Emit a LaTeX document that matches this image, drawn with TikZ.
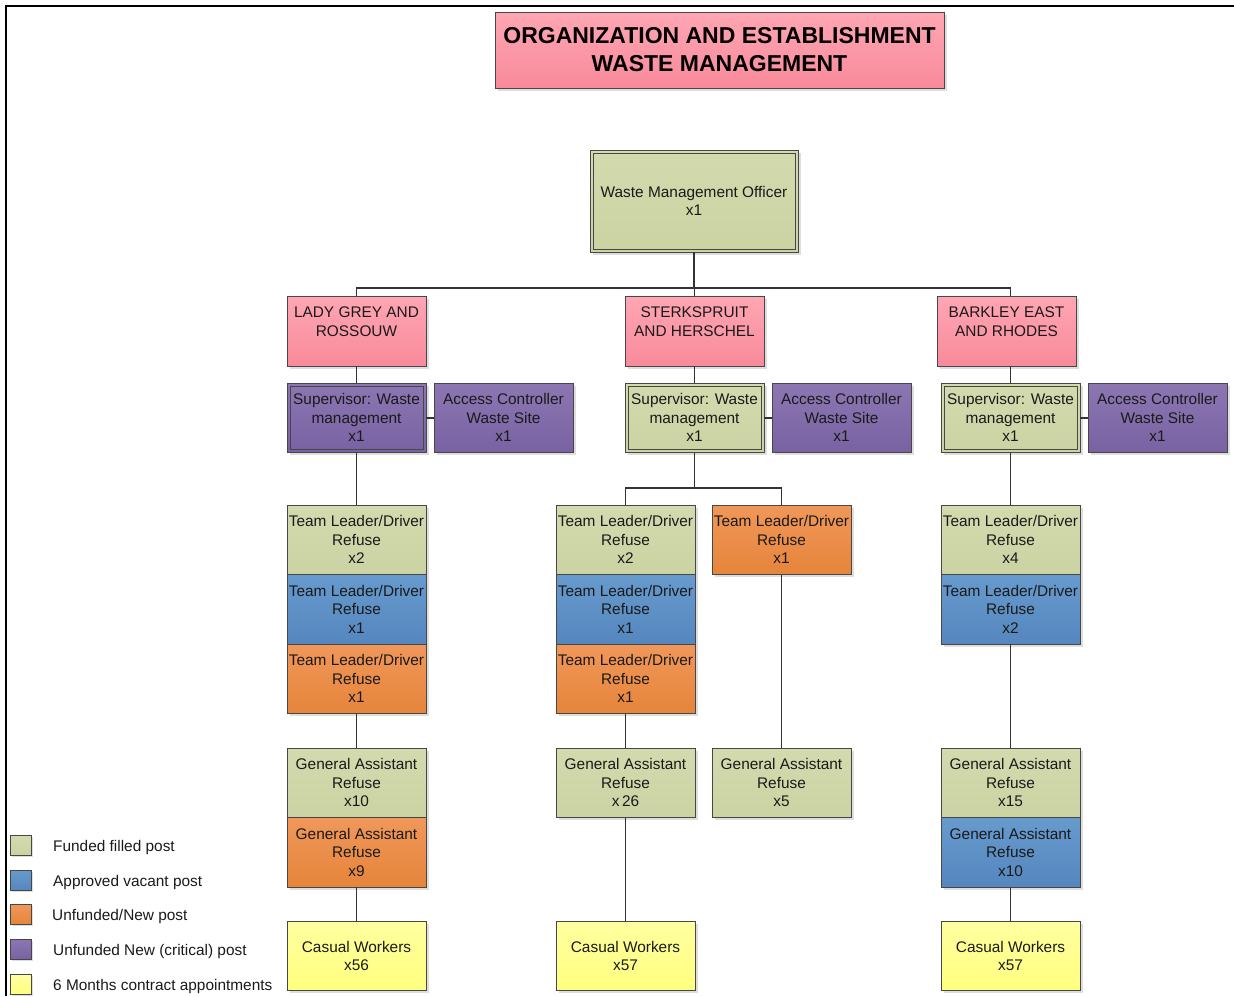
\documentclass[tikz,border=0pt]{standalone}
\usepackage{fontspec}
\setmainfont{Liberation Sans}
\usetikzlibrary{shadows}

\definecolor{fundedT}{HTML}{D3DAAE}
\definecolor{fundedB}{HTML}{CBD3A3}
\definecolor{vacantT}{HTML}{679ACD}
\definecolor{vacantB}{HTML}{5587BF}
\definecolor{newT}{HTML}{F0975A}
\definecolor{newB}{HTML}{E6853B}
\definecolor{critT}{HTML}{8C76B2}
\definecolor{critB}{HTML}{7862A2}
\definecolor{contrT}{HTML}{FFFFA0}
\definecolor{contrB}{HTML}{FFFF7E}
\definecolor{pinkT}{HTML}{FFA6B3}
\definecolor{pinkB}{HTML}{F88A9B}
\definecolor{edge}{HTML}{474747}
\definecolor{wire}{HTML}{333333}
\definecolor{ink}{HTML}{1A1A1A}

\tikzset{
  every node/.style={text=ink},
  post/.style={draw=edge, line width=0.7pt, anchor=north west, inner sep=0pt, outer sep=0pt,
    minimum width=139pt, minimum height=69.5pt, align=center,
    font=\fontsize{15.4}{18.5}\selectfont,
    drop shadow={shadow xshift=2.5pt, shadow yshift=-2.5pt, fill=black!13, opacity=1}},
  funded/.style={post, top color=fundedT, bottom color=fundedB},
  vacant/.style={post, top color=vacantT, bottom color=vacantB},
  newpost/.style={post, top color=newT, bottom color=newB},
  critical/.style={post, top color=critT, bottom color=critB},
  contract/.style={post, top color=contrT, bottom color=contrB},
  area/.style={post, top color=pinkT, bottom color=pinkB, minimum height=70pt},
  innerline/.style={draw=edge, line width=0.6pt},
  conn/.style={draw=wire, line width=1.6pt},
  swatch/.style={draw=edge, line width=0.6pt, anchor=north west, inner sep=0pt,
    minimum width=21pt, minimum height=20pt,
    drop shadow={shadow xshift=2pt, shadow yshift=-2pt, fill=black!13, opacity=1}},
  legtext/.style={anchor=west, inner sep=0pt, font=\fontsize{15.4}{18.5}\selectfont},
}

\begin{document}
\begin{tikzpicture}[x=1pt, y=-1pt]
\useasboundingbox (0,0) rectangle (1234,996);

% outer frame (left and top edges)
\draw[line width=2.6pt, black] (6,996) -- (6,6) -- (1234,6);

% title
\node[post, top color=pinkT, bottom color=pinkB, minimum width=449pt, minimum height=76pt,
  font=\fontsize{23}{28}\selectfont\bfseries, text=black] (title) at (495,12)
  {ORGANIZATION AND ESTABLISHMENT\\WASTE MANAGEMENT};

% head of section
\node[funded, minimum width=208pt, minimum height=102pt] (wmo) at (590,150)
  {Waste Management Officer\\x1};

% areas
\node[area] (r1) at (287,296) {LADY GREY AND\\ROSSOUW\\\mbox{}};
\node[area] (r2) at (625,296) {STERKSPRUIT\\AND HERSCHEL\\\mbox{}};
\node[area] (r3) at (937,296) {BARKLEY EAST\\AND RHODES\\\mbox{}};

% supervisors and access controllers
\node[critical] (s1) at (287,383) {Supervisor: Waste\\management\\x1};
\node[critical] (a1) at (434,383) {Access Controller\\Waste Site\\x1};
\node[funded]   (s2) at (625,383) {Supervisor: Waste\\management\\x1};
\node[critical] (a2) at (772,383) {Access Controller\\Waste Site\\x1};
\node[funded]   (s3) at (941,383) {Supervisor: Waste\\management\\x1};
\node[critical] (a3) at (1088,383) {Access Controller\\Waste Site\\x1};

% inner borders of the managerial posts
\foreach \n in {wmo,s1,s2,s3}
  \draw[innerline] ([shift={(3pt,-3pt)}]\n.north west) rectangle ([shift={(-3pt,3pt)}]\n.south east);

% team leaders
\node[funded]  (t1a) at (287,505)   {Team Leader/Driver\\Refuse\\x2};
\node[vacant]  (t1b) at (287,574.5) {Team Leader/Driver\\Refuse\\x1};
\node[newpost] (t1c) at (287,644)   {Team Leader/Driver\\Refuse\\x1};

\node[funded]  (t2a) at (556,505)   {Team Leader/Driver\\Refuse\\x2};
\node[vacant]  (t2b) at (556,574.5) {Team Leader/Driver\\Refuse\\x1};
\node[newpost] (t2c) at (556,644)   {Team Leader/Driver\\Refuse\\x1};
\node[newpost] (t2d) at (712,505)   {Team Leader/Driver\\Refuse\\x1};

\node[funded]  (t3a) at (941,505)   {Team Leader/Driver\\Refuse\\x4};
\node[vacant]  (t3b) at (941,574.5) {Team Leader/Driver\\Refuse\\x2};

% general assistants
\node[funded]  (g1a) at (287,748)   {General Assistant\\Refuse\\x10};
\node[newpost] (g1b) at (287,817.5) {General Assistant\\Refuse\\x9};
\node[funded]  (g2a) at (556,748)   {General Assistant\\Refuse\\x\,26};
\node[funded]  (g2d) at (712,748)   {General Assistant\\Refuse\\x5};
\node[funded]  (g3a) at (941,748)   {General Assistant\\Refuse\\x15};
\node[vacant]  (g3b) at (941,817.5) {General Assistant\\Refuse\\x10};

% casual workers
\node[contract] (c1) at (287,921) {Casual Workers\\x56};
\node[contract] (c2) at (556,921) {Casual Workers\\x57};
\node[contract] (c3) at (941,921) {Casual Workers\\x57};

% connectors
\coordinate (bus) at (0,288);
\coordinate (fork) at (0,488);
\draw[conn] (wmo.south) -- (wmo.south |- bus);
\draw[conn] (r1.north) -- (r1.north |- bus) -| (s3.north |- r3.north);
\draw[conn] (r2.north) -- (r2.north |- bus);

\draw[conn] (r1) -- (s1);
\draw[conn] (r2) -- (s2);
\draw[conn] (s3.north |- r3.south) -- (s3.north);

\draw[conn] (s1) -- (a1);
\draw[conn] (s2) -- (a2);
\draw[conn] (s3) -- (a3);

\draw[conn] (s1) -- (t1a);
\draw[conn] (s2.south) -- (s2.south |- fork) -| (t2a.north);
\draw[conn] (s2.south |- fork) -| (t2d.north);
\draw[conn] (s3) -- (t3a);

\draw[conn] (t1c) -- (g1a);
\draw[conn] (t2c) -- (g2a);
\draw[conn] (t2d) -- (g2d);
\draw[conn] (t3b) -- (g3a);

\draw[conn] (g1b) -- (c1);
\draw[conn] (g2a) -- (c2);
\draw[conn] (g3b) -- (c3);

% legend
\node[swatch, top color=fundedT, bottom color=fundedB] (k1) at (10,835) {};
\node[swatch, top color=vacantT, bottom color=vacantB] (k2) at (10,870) {};
\node[swatch, top color=newT, bottom color=newB]       (k3) at (10,904) {};
\node[swatch, top color=critT, bottom color=critB]     (k4) at (10,939) {};
\node[swatch, top color=contrT, bottom color=contrB]   (k5) at (10,974) {};
\node[legtext] (l1) at (53,848) {Funded filled post};
\node[legtext] (l2) at (53,883) {Approved vacant post};
\node[legtext] (l3) at (52,917) {Unfunded/New post};
\node[legtext] (l4) at (53,952) {Unfunded New (critical) post};
\node[legtext] (l5) at (53,987) {6 Months contract appointments};
\end{tikzpicture}
\end{document}
